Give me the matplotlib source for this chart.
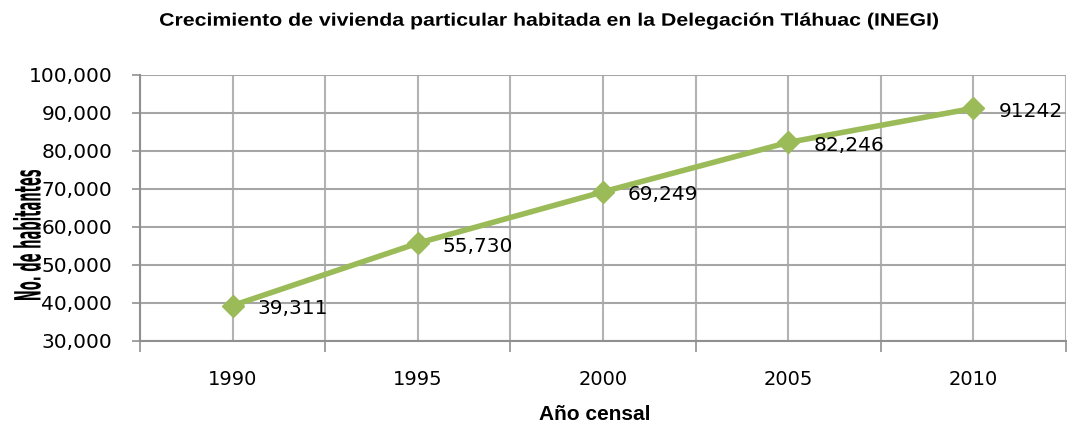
import matplotlib.pyplot as plt
from matplotlib.ticker import FuncFormatter
from matplotlib.textpath import TextPath
from matplotlib.patches import PathPatch, Rectangle
from matplotlib.font_manager import FontProperties
from matplotlib.transforms import Affine2D

# Datos censales (INEGI)
years = ["1990", "1995", "2000", "2005", "2010"]
viviendas = [39311, 55730, 69249, 82246, 91242]
point_labels = ["39,311", "55,730", "69,249", "82,246", "91242"]

green = "#9bbb59"
grid_gray = "#b3b3b3"


def stretched_text(fig, s, center, length, thickness, prop, rotation=0):
    """Texto como trazado, escalado a un largo y grosor dados (en pixeles)."""
    tp = TextPath((0, 0), s, size=20, prop=prop)
    ext = tp.get_extents()
    tr = (Affine2D()
          .translate(-(ext.x0 + ext.width / 2), -(ext.y0 + ext.height / 2))
          .scale(length / ext.width, thickness / ext.height)
          .rotate_deg(rotation)
          .translate(*center))
    patch = PathPatch(tp, transform=tr, facecolor="black", edgecolor="none", zorder=5)
    fig.add_artist(patch)


fig = plt.figure(figsize=(10.67, 4.23), dpi=100)
ax = fig.add_axes([0.1312, 0.1939, 0.8678, 0.6288])

x = list(range(len(years)))
ax.plot(x, viviendas, color=green, linewidth=4, marker="D", markersize=11,
        markeredgecolor=green, zorder=3)

# Etiquetas de datos a la derecha de cada punto
for xi, yi, lab in zip(x, viviendas, point_labels):
    ax.annotate(lab, (xi, yi), xytext=(25, -3), textcoords="offset pixels",
                ha="left", va="center", fontsize=14.5, color="black", zorder=4)

# Ejes
ax.set_xlim(-0.5, len(years) - 0.5)
ax.set_ylim(30000, 100000)
ax.set_yticks(range(30000, 100001, 10000))
ax.yaxis.set_major_formatter(FuncFormatter(lambda v, p: f"{int(v):,}"))

ax.set_xticks([i - 0.5 for i in range(len(years) + 1)])
ax.set_xticklabels([])
ax.set_xticks(x, minor=True)
ax.set_xticklabels(years, minor=True)

ax.tick_params(axis="y", labelsize=14.5, length=6, width=1.2, color="#909090", pad=14)
ax.tick_params(axis="x", which="major", length=8, width=1.2, color="#909090")
ax.tick_params(axis="x", which="minor", length=0, labelsize=14, pad=21)

ax.grid(True, which="both", axis="x", color=grid_gray, linewidth=1.5)
ax.grid(True, which="major", axis="y", color="#a6a6a6", linewidth=1.5)
ax.set_axisbelow(True)

for side in ["top", "right"]:
    ax.spines[side].set_visible(False)
for side in ["left", "bottom"]:
    ax.spines[side].set_color("#909090")
    ax.spines[side].set_linewidth(1.5)

bold_arial = FontProperties(family="Liberation Sans", weight="bold")
bold_cond = FontProperties(family="DejaVu Sans", weight="bold", stretch="condensed")

# Titulo (ensanchado como en la imagen original)
stretched_text(fig, "Crecimiento de vivienda particular habitada en la Delegación Tláhuac (INEGI)",
               (549, 423 - 21), 778, 17, bold_arial)

# Etiqueta del eje Y: fondo blanco que tapa parte de los numeros
fig.add_artist(Rectangle((10, 423 - 302), 31, 134, transform=Affine2D(),
                         facecolor="white", edgecolor="none", zorder=4))
stretched_text(fig, "No. de habitantes", (27, 423 - 235), 130, 28, bold_cond, rotation=90)

# Etiqueta del eje X
fig.text(595 / 1067, 3 / 423, "Año censal", ha="center", va="baseline",
         fontsize=15, fontweight="bold", family="Liberation Sans")

fig.savefig("out.png", dpi=100)
